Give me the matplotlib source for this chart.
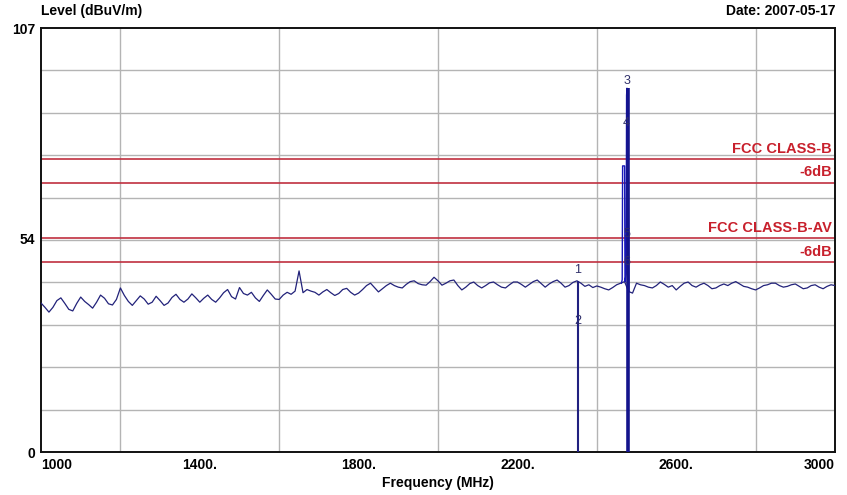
import numpy as np
import matplotlib
matplotlib.use("Agg")
import matplotlib.pyplot as plt

plt.rcParams['font.family'] = ['Liberation Sans', 'DejaVu Sans']

# ---------------- data ----------------
freq_start, freq_stop, freq_step = 1000, 3000, 10
noise_level = [
    37.6, 36.5, 35.3, 36.5, 38.2, 38.9, 37.5, 36.0, 35.6, 37.5, 39.1, 38.0, 37.2, 36.3, 37.8, 39.6, 38.8, 37.4, 37.1, 38.5,
    41.4, 39.5, 38.0, 37.0, 38.2, 39.4, 38.6, 37.3, 37.8, 39.3, 38.2, 37.0, 37.6, 39.0, 39.8, 38.5, 37.8, 38.6, 39.9, 38.9,
    37.8, 38.8, 39.6, 38.5, 37.8, 38.9, 40.2, 41.0, 39.2, 38.6, 41.5, 40.0, 39.6, 40.3, 38.9, 38.0, 39.5, 40.9, 39.8, 38.6,
    38.5, 39.6, 40.3, 39.8, 40.6, 45.7, 40.2, 41.0, 40.6, 40.3, 39.6, 40.4, 41.0, 40.2, 39.5, 40.0, 41.0, 41.3, 40.3, 39.6,
    40.1, 41.0, 42.0, 42.6, 41.5, 40.4, 41.2, 42.0, 42.6, 42.0, 41.6, 41.4, 42.3, 43.0, 43.2, 42.5, 42.2, 42.1, 43.0, 44.1,
    43.2, 42.1, 42.6, 43.2, 43.4, 42.0, 40.9, 41.6, 42.5, 42.9, 42.0, 41.4, 42.0, 42.7, 42.9, 42.2, 41.6, 41.4, 42.2, 42.9,
    42.9, 42.3, 41.6, 42.3, 43.0, 43.4, 42.5, 41.6, 42.4, 43.0, 43.4, 42.6, 41.6, 42.0, 42.8, 43.2, 42.6, 41.8, 42.2, 41.5,
    41.9, 41.6, 41.2, 40.9, 41.5, 42.2, 42.6, 43.0, 40.5, 40.1, 42.6, 42.2, 42.0, 41.6, 41.4, 42.0, 42.9, 42.3, 41.6, 42.0,
    40.9, 41.8, 42.6, 42.9, 42.0, 41.6, 42.2, 42.6, 42.0, 41.2, 41.4, 42.0, 42.4, 42.0, 42.6, 43.0, 42.4, 41.8, 41.6, 41.2,
    40.9, 41.4, 42.0, 42.2, 42.6, 42.6, 42.0, 41.6, 41.8, 42.2, 42.4, 41.8, 41.2, 41.4, 42.0, 42.2, 41.6, 41.2, 41.8, 42.2,
    42.0,
]

# emission peak near 2.47 GHz
peak_freq = [2462, 2464, 2465, 2470, 2471, 2474, 2475, 2476, 2477, 2478, 2479, 2481]
peak_level = [42.6, 43.5, 72.2, 72.2, 43.0, 45.0, 90.0, 91.8, 88.0, 83.0, 81.0, 40.5]

# markers
marker_label = ['1', '2', '3', '4', '5', '6']
marker_freq = [2352, 2352, 2477, 2473, 2477, 2477]
marker_level = [44.5, 31.5, 92.0, 81.5, 53.5, 46.5]

# marker drop lines (frequency, level)
drop_freq = [2352, 2478]
drop_level = [43.2, 91.8]

# limit lines
limit_names = ['FCC CLASS-B', '-6dB', 'FCC CLASS-B-AV', '-6dB']
limit_levels = [74, 68, 54, 48]

x_tick_values = [1000, 1400, 1800, 2200, 2600, 3000]
x_tick_labels = ['1000', '1400.', '1800.', '2200.', '2600.', '3000']
y_tick_values = [0, 54, 107]
y_tick_labels = ['0', '54', '107']

# ---------------- plot ----------------
freq = np.arange(freq_start, freq_stop + 1, freq_step)

fig = plt.figure(figsize=(8.47, 4.95), dpi=100)
fig.patch.set_facecolor('white')
ax = fig.add_axes([41 / 847, 1 - 452 / 495, 794 / 847, 424 / 495])

ax.set_xlim(1000, 3000)
ax.set_ylim(0, 107)

# grid
ax.set_xticks(np.arange(1000, 3001, 200), minor=True)
ax.set_yticks(np.linspace(0, 107, 11), minor=True)
ax.grid(which='minor', color='#b4b4b4', linewidth=1.0)
ax.grid(which='major', visible=False)
ax.tick_params(which='both', length=0)
ax.set_axisbelow(True)

ax.set_xticks(x_tick_values)
ax.set_xticklabels(x_tick_labels, fontsize=10, fontweight='bold')
ax.set_yticks(y_tick_values)
ax.set_yticklabels(y_tick_labels, fontsize=10, fontweight='bold')
xt = ax.get_xticklabels()
xt[0].set_ha('left')
xt[-1].set_ha('right')
ax.tick_params(axis='x', pad=4)
ax.tick_params(axis='y', pad=4)

for s in ax.spines.values():
    s.set_linewidth(1.4)
    s.set_color('#111111')

# limit lines
for name, lvl in zip(limit_names, limit_levels):
    ax.axhline(lvl, color='#c03040', linewidth=1.2, zorder=2)
    ax.text(2992, lvl + 0.8, name, color='#c8202c', fontsize=10.5,
            fontweight='bold', ha='right', va='bottom', zorder=3)

# trace
ax.plot(freq, noise_level, color='#22227a', linewidth=0.9, zorder=4)
ax.plot(peak_freq, peak_level, color='#1818b8', linewidth=1.0, zorder=5)

# drop lines
ax.vlines(drop_freq[0], 0, drop_level[0], color='#202080', linewidth=1.5, zorder=5)
ax.vlines(drop_freq[1], 0, drop_level[1], color='#14148c', linewidth=2.6, zorder=5)

# marker labels
for lab, f, lvl in zip(marker_label, marker_freq, marker_level):
    ax.text(f, lvl, lab, color='#30306a', fontsize=9, ha='center',
            va='bottom', zorder=6)

# titles
fig.text(41 / 847, 1 - 4 / 495, 'Level (dBuV/m)', fontsize=10, fontweight='bold',
         ha='left', va='top')
fig.text(835 / 847, 1 - 4 / 495, 'Date: 2007-05-17', fontsize=10, fontweight='bold',
         ha='right', va='top')
fig.text(438 / 847, 1 - 483 / 495, 'Frequency (MHz)', fontsize=10, fontweight='bold',
         ha='center', va='center')

fig.savefig('out.png', dpi=100, facecolor='white')
